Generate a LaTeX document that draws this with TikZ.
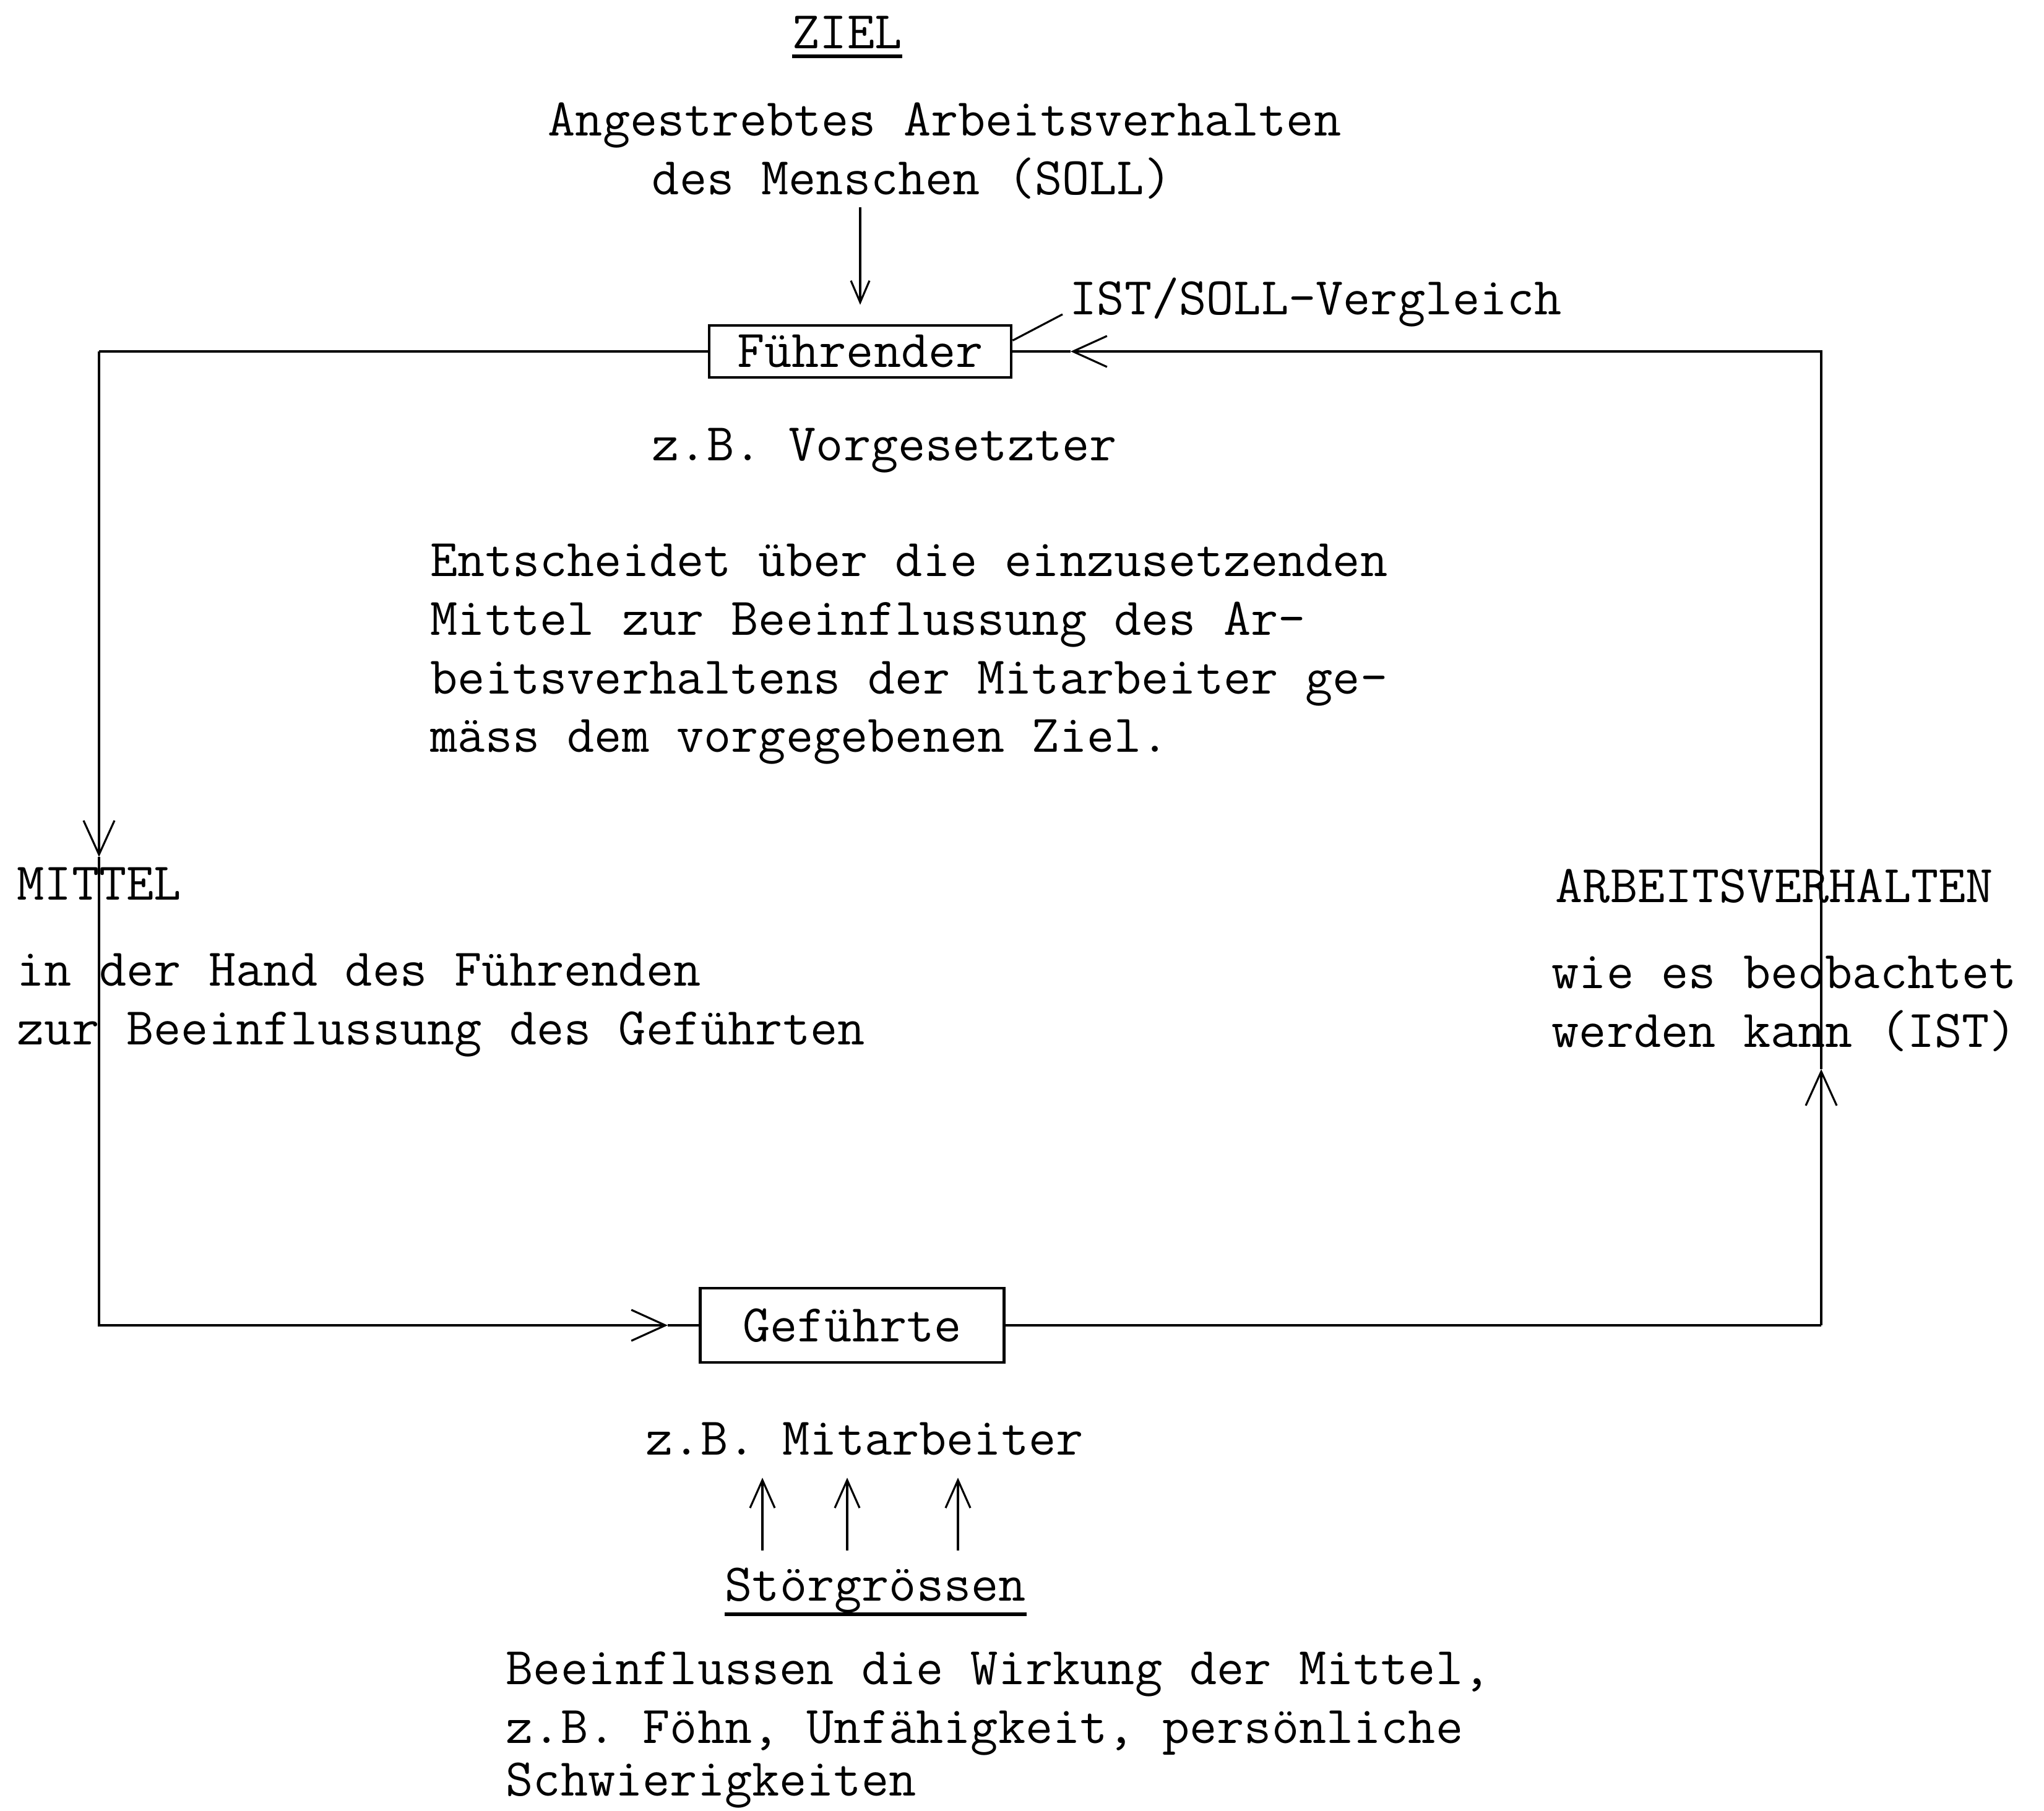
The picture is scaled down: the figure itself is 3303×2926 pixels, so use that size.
\documentclass[tikz,border=0pt]{standalone}
\usepackage{fontspec}
\usetikzlibrary{positioning, arrows.meta, calc}

\begin{document}
\begin{tikzpicture}[x=0.01cm, y=-0.01cm,
    font=\ttfamily\fontsize{24.4}{26.9}\selectfont,
    every node/.style={inner sep=0pt},
    zeile/.style={anchor=base west},
    block/.style={anchor=north west, align=left},
    kasten/.style={draw, line width=1.3pt, minimum width=4.88cm, minimum height=0.84cm},
    lin/.style={line width=0.9pt},
    strich/.style={line width=1.6pt},
    barb/.style={lin, -{Straight Barb[length=0.55cm, width=0.5cm]}}]
  \useasboundingbox (0,0) rectangle (3303,2926);

  % Ziel oben
  \node[anchor=base] (ziel) at (1369,78) {ZIEL};
  \node[block] (soll) at (885,153) {\strut Angestrebtes Arbeitsverhalten\\\hspace*{1.68cm}des Menschen (SOLL)};

  % die beiden Kaesten
  \node[kasten] (fuehrender) at (1390,568) {Führender};
  \node[kasten, minimum width=4.91cm, minimum height=1.2cm] (gefuehrte) at (1377,2142) {Geführte};

  \node[zeile] (vergleich) at (1728,508) {IST/SOLL-Vergleich};
  \node[zeile] (vorg) at (1053,744) {z.B. Vorgesetzter};
  \node[block] (entscheid) at (695,865) {\strut Entscheidet über die einzusetzenden\\Mittel zur Beeinflussung des Ar-\\beitsverhaltens der Mitarbeiter ge-\\mäss dem vorgegebenen Ziel.};

  % links / rechts
  \node[zeile] (mittel) at (27,1454) {MITTEL};
  \node[block] (hand) at (27,1527) {\strut in der Hand des Führenden\\zur Beeinflussung des Geführten};
  \node[zeile] (verhalten) at (2513,1458) {ARBEITSVERHALTEN};
  \node[block] (beob) at (2507,1531) {\strut wie es beobachtet\\werden kann (IST)};

  % unten
  \node[zeile] (mitarb) at (1043,2351) {z.B. Mitarbeiter};
  \node[zeile] (stoer) at (1171,2587) {Störgrössen};
  \node[block] (beeinfl) at (817,2656) {\strut Beeinflussen die Wirkung der Mittel,\\z.B. Föhn, Unfähigkeit, persönliche\\[-0.1cm]Schwierigkeiten};

  % Unterstreichungen
  \draw[strich] ([yshift=-0.13cm]ziel.base west) -- ([yshift=-0.13cm]ziel.base east);
  \draw[strich] ([yshift=-0.22cm]stoer.base west) -- ([yshift=-0.22cm]stoer.base east);

  % Ecken und Pfeilspitzen des Regelkreises
  \coordinate (lo) at (160,568);
  \coordinate (lm) at (160,1385);
  \coordinate (lu) at (160,2142);
  \coordinate (um) at (1079,2142);
  \coordinate (ru) at (2943,2142);
  \coordinate (rm) at (2943,1728);
  \coordinate (ro) at (2943,568);
  \coordinate (om) at (1730,568);

  \draw[lin, -{Straight Barb[length=0.35cm, width=0.3cm]}, shorten <=0.13cm, shorten >=0.31cm]
    (soll.south -| fuehrender.north) -- (fuehrender.north);
  \draw[lin] ($(fuehrender.north east)!0.6!(fuehrender.east)$) -- ([xshift=-0.11cm]vergleich.base west);

  \draw[lin] (fuehrender.west) -- (lo);
  \draw[barb] (lo) -- (lm);
  \draw[barb] (lm) -- (lu) -- (um);
  \draw[lin] (um) -- (gefuehrte.west);
  \draw[lin] (gefuehrte.east) -- (ru);
  \draw[barb] (ru) -- (rm);
  \draw[barb] (rm) -- (ro) -- (om);
  \draw[lin] (om) -- (fuehrender.east);

  % Stoergroessen
  \foreach \px in {1232,1369,1548} {
    \path (\px,0) coordinate (sx);
    \draw[lin, -{Straight Barb[length=0.45cm, width=0.4cm]}, shorten <=0.27cm, shorten >=0.36cm]
      (stoer.north -| sx) -- (mitarb.south -| sx);
  }
\end{tikzpicture}
\end{document}
